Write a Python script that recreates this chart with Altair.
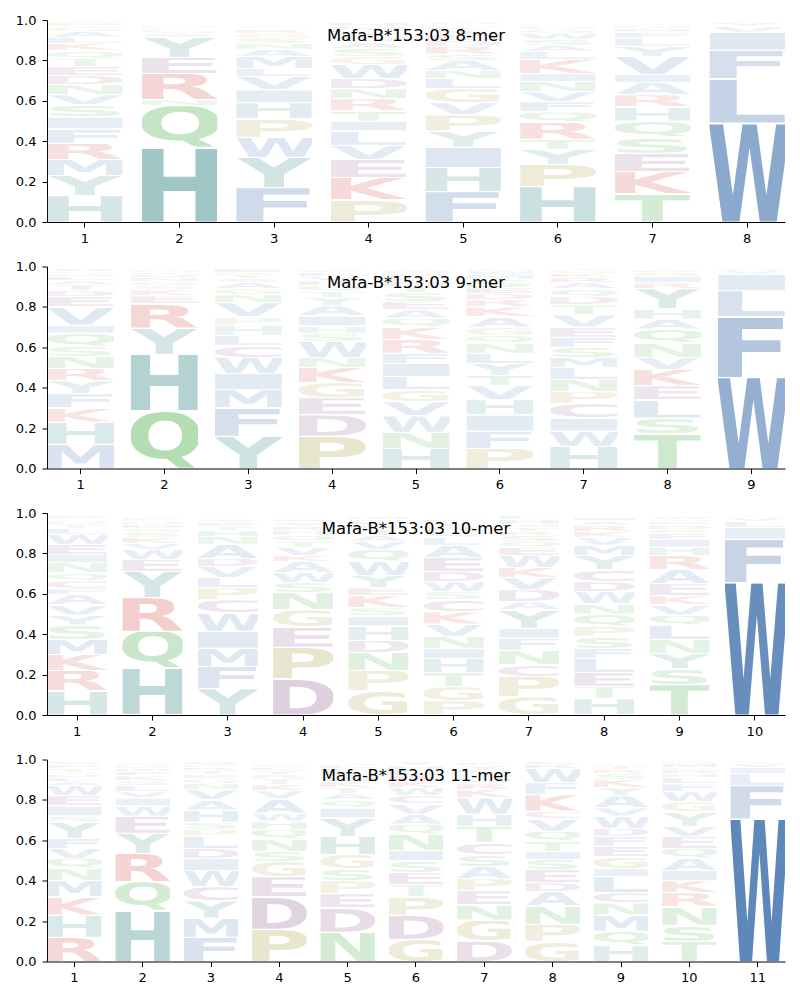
import base64
import altair as alt
import pandas as pd

# ---------------- data (bottom -> top in each position) ----------------
mer8_letters = ["HYMRFISVNDETQKLAGPW", "HQNREYSGKDMF", "FYWPHIVLMANSGRQT",
                "PKEVLITRNDWGSAQYFMH", "FHIYPVGLNASRDETKMQ", "HPYTRQFVNIKLASWGDM",
                "TKESQHRAIVYLFNGM", "WLFIVY"]
mer8_heights = [
    [0.13, 0.10, 0.08, 0.08, 0.07, 0.06, 0.06, 0.05, 0.05, 0.045, 0.045, 0.04, 0.04, 0.035, 0.03, 0.03, 0.025, 0.02, 0.01],
    [0.365, 0.21, 0.03, 0.13, 0.08, 0.10, 0.02, 0.015, 0.01, 0.01, 0.01, 0.005],
    [0.17, 0.15, 0.10, 0.09, 0.08, 0.065, 0.065, 0.04, 0.06, 0.035, 0.03, 0.025, 0.025, 0.02, 0.015, 0.01],
    [0.11, 0.11, 0.09, 0.07, 0.07, 0.05, 0.05, 0.06, 0.05, 0.05, 0.07, 0.04, 0.04, 0.03, 0.03, 0.02, 0.01, 0.02, 0.02],
    [0.15, 0.12, 0.10, 0.08, 0.08, 0.06, 0.07, 0.05, 0.04, 0.05, 0.03, 0.04, 0.03, 0.03, 0.02, 0.015, 0.01, 0.015],
    [0.175, 0.11, 0.075, 0.05, 0.085, 0.05, 0.05, 0.05, 0.05, 0.04, 0.07, 0.04, 0.03, 0.03, 0.03, 0.02, 0.015, 0.01],
    [0.14, 0.11, 0.09, 0.08, 0.08, 0.07, 0.06, 0.06, 0.04, 0.09, 0.05, 0.04, 0.03, 0.02, 0.015, 0.01],
    [0.49, 0.22, 0.14, 0.09, 0.03, 0.02],
]

mer9_letters = ["MHKFYRNSQIVEDTALGPW", "QHYREKSGNDFM", "YFMIWCLHPVNGASTRE",
                "PDEGKNWSHIAYTQRVLF", "HNWVGLIFRKQAESTDCPMY", "PFIHVTYLNQGAKRDESMWC",
                "HWICPNLMSFEVTDQARKGY", "TSLEKVNQAHYRIGD", "WFLIVM"]
mer9_heights = [
    [0.12, 0.11, 0.07, 0.07, 0.065, 0.06, 0.06, 0.05, 0.065, 0.04, 0.09, 0.05, 0.03, 0.03, 0.02, 0.02, 0.015, 0.01, 0.015],
    [0.285, 0.28, 0.13, 0.12, 0.04, 0.03, 0.02, 0.02, 0.02, 0.015, 0.01, 0.01],
    [0.16, 0.14, 0.09, 0.08, 0.08, 0.06, 0.05, 0.05, 0.04, 0.07, 0.04, 0.03, 0.03, 0.02, 0.02, 0.01, 0.02],
    [0.16, 0.105, 0.085, 0.075, 0.075, 0.05, 0.08, 0.04, 0.035, 0.05, 0.05, 0.04, 0.03, 0.03, 0.025, 0.02, 0.02, 0.01],
    [0.10, 0.08, 0.08, 0.07, 0.06, 0.065, 0.065, 0.05, 0.07, 0.06, 0.045, 0.04, 0.04, 0.045, 0.03, 0.025, 0.02, 0.02, 0.015, 0.01],
    [0.10, 0.085, 0.08, 0.075, 0.07, 0.05, 0.06, 0.05, 0.05, 0.04, 0.04, 0.05, 0.05, 0.035, 0.03, 0.03, 0.04, 0.025, 0.02, 0.01],
    [0.11, 0.075, 0.065, 0.07, 0.06, 0.06, 0.06, 0.05, 0.05, 0.05, 0.05, 0.06, 0.05, 0.04, 0.04, 0.03, 0.025, 0.02, 0.015, 0.01],
    [0.17, 0.08, 0.09, 0.07, 0.08, 0.06, 0.07, 0.07, 0.05, 0.05, 0.10, 0.03, 0.03, 0.02, 0.01],
    [0.45, 0.30, 0.13, 0.08, 0.02, 0.01],
]

mer10_letters = ["HRKMSYVAFCQNIEWLTDGP", "HQRYEWVKSGDNFM", "YFMIWCPLVDANHTESK",
                 "DPEGNSWAKVTQHRYIL", "GPNDHISKEYWQVATRLFM", "PGTHINVKCSWDEALQRYFM",
                 "GPCNFIYADVKWEQSRTMHL", "HTELFSPQNWDCYMVKRAIG", "TSYNLQVKEARHIFGDPMW",
                 "WFILVY"]
mer10_heights = [
    [0.12, 0.10, 0.08, 0.075, 0.07, 0.05, 0.05, 0.05, 0.03, 0.04, 0.04, 0.05, 0.04, 0.05, 0.05, 0.03, 0.02, 0.015, 0.01, 0.02],
    [0.23, 0.185, 0.165, 0.13, 0.06, 0.05, 0.03, 0.03, 0.025, 0.02, 0.02, 0.015, 0.015, 0.01],
    [0.13, 0.11, 0.09, 0.085, 0.09, 0.065, 0.06, 0.05, 0.055, 0.04, 0.07, 0.04, 0.03, 0.02, 0.02, 0.015, 0.01],
    [0.18, 0.155, 0.10, 0.085, 0.085, 0.05, 0.05, 0.055, 0.03, 0.04, 0.03, 0.03, 0.025, 0.02, 0.02, 0.015, 0.01],
    [0.12, 0.10, 0.09, 0.06, 0.07, 0.05, 0.04, 0.06, 0.04, 0.06, 0.07, 0.06, 0.04, 0.03, 0.03, 0.02, 0.02, 0.01, 0.015],
    [0.07, 0.07, 0.07, 0.07, 0.05, 0.06, 0.06, 0.06, 0.06, 0.04, 0.05, 0.05, 0.07, 0.06, 0.04, 0.03, 0.025, 0.02, 0.015, 0.01],
    [0.09, 0.10, 0.06, 0.07, 0.06, 0.05, 0.09, 0.04, 0.06, 0.06, 0.05, 0.06, 0.04, 0.03, 0.03, 0.02, 0.02, 0.015, 0.025, 0.02],
    [0.08, 0.06, 0.07, 0.07, 0.05, 0.06, 0.05, 0.06, 0.05, 0.06, 0.05, 0.06, 0.07, 0.05, 0.04, 0.03, 0.03, 0.02, 0.02, 0.01],
    [0.15, 0.08, 0.075, 0.07, 0.07, 0.05, 0.05, 0.045, 0.06, 0.07, 0.07, 0.04, 0.04, 0.03, 0.02, 0.02, 0.02, 0.01, 0.015],
    [0.655, 0.215, 0.06, 0.03, 0.02, 0.01],
]

mer11_letters = ["RHKMNQVFYSIEWALDGTPC", "HQRYEWIVLSKFMGD", "FMYCWIDLPSHAVNGETRKQ",
                 "PDEGSNQHWAVKTRYLIF", "NDEPSGHYIQATKWRFLM", "GDPTESINQAVCWKRLHY",
                 "DGNEPASCTHWKRQILYF", "GPNADESITQVCKFWRL", "HQMNCLIGEFDWVAYKSRTP",
                 "TSNRKIAQEVYGWFLHDPMC", "WFLIVY"]
mer11_heights = [
    [0.12, 0.11, 0.09, 0.08, 0.06, 0.05, 0.05, 0.05, 0.08, 0.03, 0.05, 0.05, 0.05, 0.02, 0.02, 0.015, 0.01, 0.02, 0.02, 0.015],
    [0.25, 0.145, 0.14, 0.10, 0.085, 0.05, 0.04, 0.03, 0.03, 0.025, 0.025, 0.02, 0.015, 0.015, 0.01],
    [0.12, 0.095, 0.085, 0.07, 0.08, 0.06, 0.05, 0.06, 0.035, 0.035, 0.06, 0.05, 0.05, 0.03, 0.025, 0.02, 0.02, 0.015, 0.01, 0.02],
    [0.16, 0.16, 0.10, 0.075, 0.05, 0.06, 0.05, 0.04, 0.04, 0.07, 0.04, 0.03, 0.03, 0.02, 0.02, 0.015, 0.01, 0.01],
    [0.145, 0.12, 0.07, 0.065, 0.06, 0.07, 0.09, 0.09, 0.05, 0.04, 0.03, 0.03, 0.03, 0.025, 0.02, 0.02, 0.015, 0.01],
    [0.11, 0.12, 0.09, 0.06, 0.06, 0.06, 0.05, 0.08, 0.05, 0.05, 0.05, 0.04, 0.04, 0.03, 0.03, 0.03, 0.02, 0.02],
    [0.10, 0.105, 0.075, 0.07, 0.06, 0.06, 0.06, 0.06, 0.08, 0.06, 0.08, 0.04, 0.03, 0.03, 0.02, 0.02, 0.02, 0.015],
    [0.10, 0.085, 0.09, 0.07, 0.045, 0.065, 0.05, 0.04, 0.05, 0.05, 0.06, 0.04, 0.08, 0.06, 0.07, 0.02, 0.015],
    [0.08, 0.07, 0.08, 0.06, 0.05, 0.08, 0.04, 0.06, 0.05, 0.05, 0.04, 0.06, 0.04, 0.06, 0.04, 0.04, 0.03, 0.02, 0.02, 0.01],
    [0.10, 0.08, 0.09, 0.07, 0.06, 0.05, 0.06, 0.05, 0.06, 0.05, 0.07, 0.05, 0.05, 0.04, 0.03, 0.02, 0.02, 0.01, 0.02, 0.01],
    [0.705, 0.165, 0.06, 0.03, 0.02, 0.01],
]

panel_titles = ["Mafa-B*153:03 8-mer", "Mafa-B*153:03 9-mer",
                "Mafa-B*153:03 10-mer", "Mafa-B*153:03 11-mer"]

# ---------------- glyph styling ----------------
group_colors = {
    "AVLIMFW": "#3266a7",
    "HY": "#257d7d",
    "NQST": "#2ca02c",
    "KR": "#c8281f",
    "DEC": "#7a3d7a",
    "PG": "#9b8e21",
}
# DejaVu Sans Bold approximate metrics (font units): advance, left/right bearing
metrics = {
    "A": (1585, 0, 0), "C": (1468, 113, 90), "D": (1694, 186, 113), "E": (1399, 186, 139),
    "F": (1399, 186, 139), "G": (1673, 113, 113), "H": (1716, 186, 186), "I": (758, 186, 186),
    "K": (1624, 186, 0), "L": (1305, 186, 50), "M": (2036, 186, 186), "N": (1716, 186, 186),
    "P": (1507, 186, 102), "Q": (1706, 113, 113), "R": (1577, 186, 43), "S": (1481, 100, 100),
    "T": (1403, 6, 6), "V": (1585, 0, 0), "W": (2134, 70, 70), "Y": (1481, 0, 0),
}


def glyph_url(letter):
    color = next(c for k, c in group_colors.items() if letter in k)
    adv, lsb, rsb = metrics[letter]
    top, bottom = (1525, 29) if letter in "CGOS" else (1493, 0)
    if letter == "Q":
        top, bottom = 1525, 340
    svg = (
        '<svg xmlns="http://www.w3.org/2000/svg" '
        f'viewBox="{lsb} {-top} {adv - lsb - rsb} {top + bottom}" preserveAspectRatio="none">'
        f'<text x="0" y="0" font-family="DejaVu Sans" font-weight="bold" font-size="2048" '
        f'fill="{color}">{letter}</text></svg>'
    )
    return "data:image/svg+xml;base64," + base64.b64encode(svg.encode()).decode()


urls = {l: glyph_url(l) for l in metrics}


def build_table(letters, heights):
    rows = []
    for p, (ls, hs) in enumerate(zip(letters, heights), start=1):
        for k, (l, h) in enumerate(zip(ls, hs)):
            rows.append({"pos": p, "k": k, "letter": l, "h": h, "url": urls[l]})
    return pd.DataFrame(rows)


def panel(letters, heights, title):
    df = build_table(letters, heights)
    logo = (
        alt.Chart(df)
        .transform_window(top="sum(h)", groupby=["pos"], sort=[alt.SortField("k")], frame=[None, 0])
        .transform_calculate(bot="datum.top - datum.h")
        .mark_image(aspect=False, yOffset=-0.5, y2Offset=0.5)
        .encode(
            x=alt.X("pos:O", scale=alt.Scale(paddingInner=0.2, paddingOuter=0),
                    axis=alt.Axis(labelAngle=0, title=None, labelPadding=5)),
            y=alt.Y("bot:Q", scale=alt.Scale(domain=[0, 1], nice=False),
                    axis=alt.Axis(values=[0, 0.2, 0.4, 0.6, 0.8, 1.0], format=".1f",
                                  title=None, minExtent=34, maxExtent=34, labelPadding=6)),
            y2="top:Q",
            url="url:N",
            opacity=alt.Opacity("h:Q", scale=alt.Scale(domain=[0, 0.7], range=[0.05, 0.78], clamp=True),
                                legend=None),
        )
    )
    ttl = (
        alt.Chart(pd.DataFrame({"t": [title]}))
        .mark_text(font="DejaVu Sans", fontSize=16.5, color="black", align="center", baseline="middle")
        .encode(text="t:N", x=alt.value(369), y=alt.value(16))
    )
    return alt.layer(logo, ttl).properties(width=738, height=202)


chart = (
    alt.vconcat(
        panel(mer8_letters, mer8_heights, panel_titles[0]),
        panel(mer9_letters, mer9_heights, panel_titles[1]),
        panel(mer10_letters, mer10_heights, panel_titles[2]),
        panel(mer11_letters, mer11_heights, panel_titles[3]),
        spacing=15.5,
    )
    .properties(padding={"left": 5, "top": 6, "right": 5, "bottom": 5})
    .configure_view(stroke=None)
    .configure_axis(
        labelFont="DejaVu Sans", labelFontSize=13, labelColor="black",
        domainColor="black", tickColor="black", tickSize=5,
        grid=False, domainWidth=1,
    )
)

chart.save("out.html", embed_options={"renderer": "svg", "actions": False})
